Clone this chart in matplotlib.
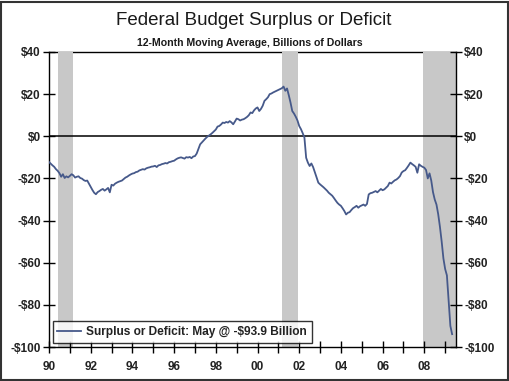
import numpy as np
import matplotlib.pyplot as plt
from matplotlib.patches import Rectangle

plt.rcParams['font.family'] = ['Liberation Sans', 'DejaVu Sans']

# 12-month moving average of federal budget surplus/deficit, billions of $, monthly Jan 1990 - May 2009
deficit = [
    # 1990
    -12.2, -13.0, -13.8, -14.5, -15.6, -16.4, -17.5, -19.2, -18.0, -19.8, -19.0, -19.5,
    # 1991
    -18.8, -18.0, -18.5, -19.6, -19.2, -19.0, -19.8, -20.1, -20.8, -21.2, -21.0, -22.5,
    # 1992
    -24.0, -25.5, -26.8, -27.5, -26.5, -26.0, -25.4, -25.0, -25.8, -25.2, -24.5, -26.6,
    # 1993
    -23.0, -23.4, -22.5, -22.0, -21.6, -21.3, -21.0, -20.3, -19.6, -19.2, -18.6, -18.1,
    # 1994
    -17.7, -17.5, -17.0, -16.8, -16.2, -15.9, -15.6, -15.8, -15.2, -14.9, -14.7, -14.4,
    # 1995
    -14.3, -14.0, -14.6, -13.8, -13.6, -13.2, -13.0, -12.7, -12.9, -12.3, -12.1, -11.8,
    # 1996
    -11.6, -11.0, -10.5, -10.2, -10.0, -10.3, -10.6, -9.9, -10.1, -9.8, -10.4, -9.6,
    # 1997
    -9.4, -8.2, -6.0, -3.8, -2.9, -2.0, -1.1, -0.3, 0.3, 0.9, 1.6, 2.4,
    # 1998
    3.2, 4.6, 4.9, 5.6, 6.5, 6.3, 6.8, 6.5, 7.2, 6.6, 5.7, 7.0,
    # 1999
    8.4, 8.1, 7.5, 7.9, 8.1, 8.6, 9.2, 10.0, 11.3, 11.0, 12.3, 13.2,
    # 2000
    13.7, 12.0, 13.0, 14.5, 16.8, 17.6, 18.5, 20.0, 20.3, 20.8, 21.2, 21.6,
    # 2001
    22.0, 22.4, 22.8, 23.6, 21.6, 22.7, 19.5, 16.0, 12.0, 10.8, 9.3, 7.5,
    # 2002
    4.9, 3.4, 1.5, -0.6, -10.2, -12.5, -14.1, -12.9, -14.6, -17.0, -19.5, -22.0,
    # 2003
    -22.8, -23.5, -24.2, -25.0, -25.8, -26.8, -27.5, -28.2, -29.3, -30.5, -31.6, -32.4,
    # 2004
    -33.0, -34.2, -35.5, -37.1, -36.3, -36.0, -35.0, -34.1, -33.6, -33.0, -33.9, -33.2,
    # 2005
    -32.8, -32.4, -33.0, -32.1, -27.6, -27.0, -26.8, -26.4, -26.0, -26.6, -25.8, -25.0,
    # 2006
    -25.6, -25.2, -24.4, -23.6, -22.0, -22.4, -21.6, -20.9, -20.5, -19.8, -18.9, -17.2,
    # 2007
    -16.5, -16.1, -15.0, -13.8, -12.5, -13.2, -13.8, -14.5, -17.3, -13.3, -14.0, -14.5,
    # 2008
    -14.9, -16.0, -20.0, -17.6, -21.0, -26.5, -30.0, -32.4, -37.0, -43.0, -50.0, -58.0,
    # 2009
    -63.0, -66.0, -78.0, -90.0, -93.9,
]
start_year = 1990

recessions = [(1990.45, 1991.17), (2001.17, 2001.95), (2007.92, 2009.6)]

year_ticks = list(range(1990, 2010))
year_labels = [f"{y % 100:02d}" if y % 2 == 0 else "" for y in year_ticks]
y_ticks = [-100, -80, -60, -40, -20, 0, 20, 40]
y_labels = ["-$100", "-$80", "-$60", "-$40", "-$20", "$0", "$20", "$40"]

t = start_year + np.arange(len(deficit)) / 12.0

fig = plt.figure(figsize=(5.10, 3.81), dpi=100)
ax = fig.add_axes([49/510, 34/381, 407/510, 295/381])

for a, b in recessions:
    ax.axvspan(a, b, color='#c8c8c8', lw=0, zorder=1)

ax.axhline(0, color='black', lw=1.1, zorder=2)
ax.axhline(40, color='black', lw=1.0, zorder=0.5, clip_on=False)
ax.plot(t, deficit, color='#46598a', lw=1.3, zorder=3,
        label='Surplus or Deficit: May @ -$93.9 Billion')

ax.set_xlim(1990, 2009.52)
ax.set_ylim(-100, 40)
ax.spines['top'].set_visible(False)
for s in ['left', 'right', 'bottom']:
    ax.spines[s].set_linewidth(1.0)

ax.set_xticks(year_ticks)
ax.set_xticklabels(year_labels)
ax.set_yticks(y_ticks)
ax.set_yticklabels(y_labels)
ax.tick_params(axis='y', left=True, right=True, labelleft=True, labelright=True,
               direction='inout', length=8, width=1.0, pad=2, labelsize=8.5)
ax.tick_params(axis='x', direction='inout', length=8, width=1.0, pad=6, labelsize=8.5)
for lab in ax.get_xticklabels() + ax.get_yticklabels():
    lab.set_fontweight('bold')
    lab.set_color('#222222')

leg = ax.legend(loc='lower left', bbox_to_anchor=(0.009, 0.015), fontsize=8.6,
                frameon=True, fancybox=False, handlelength=2.0, handletextpad=0.4,
                borderpad=0.4, borderaxespad=0)
leg.get_frame().set_edgecolor('black')
leg.get_frame().set_linewidth(1.0)
for txt in leg.get_texts():
    txt.set_fontweight('bold')
    txt.set_color('#222222')

fig.text(0.497, 0.946, 'Federal Budget Surplus or Deficit', ha='center', va='center',
         fontsize=13.5, color='#1a1a1a')
fig.text(0.49, 0.887, '12-Month Moving Average, Billions of Dollars', ha='center',
         va='center', fontsize=7.6, fontweight='bold', color='#1a1a1a')

fig.patches.append(Rectangle((0.002, 0.003), 0.994, 0.993, transform=fig.transFigure,
                             fill=False, edgecolor='#333333', lw=1.5))

fig.savefig('out.png', dpi=100)
